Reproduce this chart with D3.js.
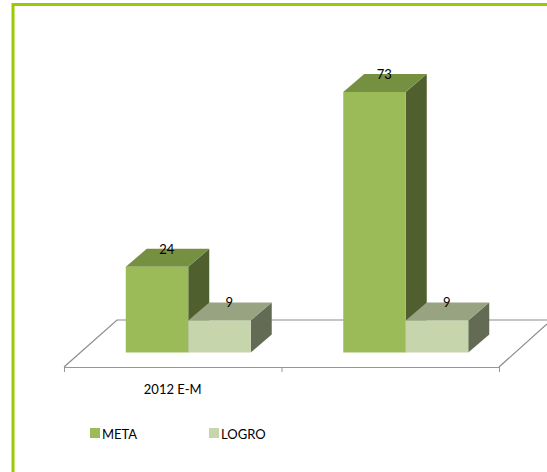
<!DOCTYPE html>
<meta charset="utf-8">
<style>
html, body { margin: 0; padding: 0; background: #fff; overflow: hidden; }
text { font-family: Lato, "Open Sans", sans-serif; font-size: 13px; fill: #000; }
</style>
<body>
<script src="https://d3js.org/d3.v7.min.js"></script>
<script>

var categories = ["2012 E-M", ""];
var seriesNames = ["META", "LOGRO"];
var meta = [24, 73];
var logro = [9, 9];

var width = 547, height = 472;

// front, top and side colour of each series
var colors = {
  META:  {front: "#9bbb59", top: "#769042", side: "#4f602e"},
  LOGRO: {front: "#c6d5ab", top: "#98a382", side: "#636b55"}
};

var depthX = 21, depthY = 18;

var svg = d3.select("body").append("svg")
    .attr("width", width)
    .attr("height", height);

// green frame, open on the right and bottom
svg.append("path")
    .attr("d", "M13,472V4.5H547")
    .attr("fill", "none")
    .attr("stroke", "#99cc00")
    .attr("stroke-width", 3);

var x0 = d3.scaleBand().domain(d3.range(categories.length)).range([64, 499]);
var x1 = d3.scaleBand().domain(seriesNames).range([0, 125]);
var y = d3.scaleLinear().domain([0, 73]).range([352.5, 92]);

var floorY = 367;

// floor of the 3D plot
svg.append("path")
    .attr("d", "M64,367L117,320H547M499,367L547,324")
    .attr("fill", "none")
    .attr("stroke", "#8c8c8c")
    .attr("stroke-width", 1.2);

// axis line and ticks between the categories
var axis = d3.axisBottom(d3.scaleLinear().domain([0, categories.length]).range([64, 499]))
    .ticks(categories.length)
    .tickSizeInner(5)
    .tickSizeOuter(5)
    .tickFormat("");

svg.append("g")
    .attr("transform", "translate(0," + floorY + ")")
    .call(axis)
    .selectAll("path, line")
    .attr("stroke", "#969696");

svg.selectAll(".cat")
    .data(categories)
    .enter().append("text")
    .attr("class", "cat")
    .attr("x", function(d, i) { return x0(i) + x0.bandwidth() / 2; })
    .attr("y", 394)
    .attr("text-anchor", "middle")
    .text(function(d) { return d; });

var rows = [];
categories.forEach(function(c, i) {
  rows.push({i: i, name: "META", value: meta[i]});
  rows.push({i: i, name: "LOGRO", value: logro[i]});
});

// the bars sit to the right of the band centre because of the depth
var shift = 15.5;

var bars = svg.selectAll(".bar")
    .data(rows)
    .enter().append("g")
    .attr("class", "bar");

function left(d) { return x0(d.i) + x0.bandwidth() / 2 - 62.5 + shift + x1(d.name); }

bars.append("path") // side
    .attr("fill", function(d) { return colors[d.name].side; })
    .attr("d", function(d) {
      var r = left(d) + x1.bandwidth(), t = y(d.value), b = y(0);
      return "M" + r + "," + t + "l" + depthX + "," + (-depthY) + "V" + (b - depthY) + "L" + r + "," + b + "Z";
    });

bars.append("path") // top
    .attr("fill", function(d) { return colors[d.name].top; })
    .attr("d", function(d) {
      var l = left(d), t = y(d.value), w = x1.bandwidth();
      return "M" + l + "," + t + "l" + depthX + "," + (-depthY) + "h" + w + "l" + (-depthX) + "," + depthY + "Z";
    });

bars.append("rect") // front
    .attr("x", left)
    .attr("y", function(d) { return y(d.value); })
    .attr("width", x1.bandwidth())
    .attr("height", function(d) { return y(0) - y(d.value); })
    .attr("fill", function(d) { return colors[d.name].front; });

bars.append("text")
    .attr("x", function(d) { return left(d) + 41; })
    .attr("y", function(d) { return y(d.value) - 13; })
    .attr("text-anchor", "middle")
    .text(function(d) { return d.value; });

// legend
var legendX = d3.scaleOrdinal().domain(seriesNames).range([90, 209]);

var legend = svg.selectAll(".legend")
    .data(seriesNames)
    .enter().append("g")
    .attr("class", "legend")
    .attr("transform", function(d) { return "translate(" + legendX(d) + ",428)"; });

legend.append("rect")
    .attr("width", 10)
    .attr("height", 10)
    .attr("fill", function(d) { return colors[d].front; });

legend.append("text")
    .attr("x", 12)
    .attr("y", 10.5)
    .text(function(d) { return d; });

</script>
</body>
